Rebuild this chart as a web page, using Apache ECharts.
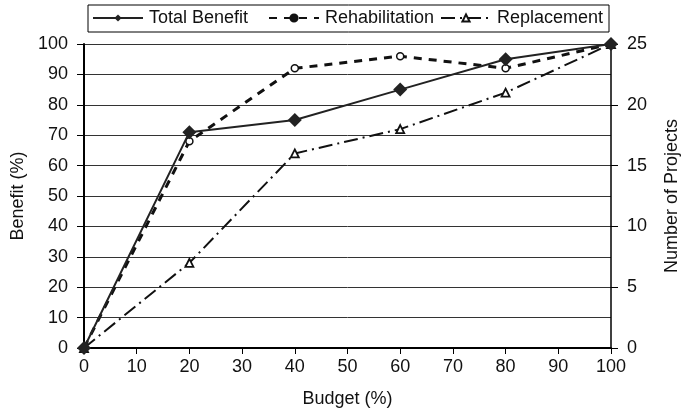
<!DOCTYPE html>
<html><head><meta charset="utf-8">
<script src="https://cdn.jsdelivr.net/npm/echarts@6/dist/echarts.min.js"></script>
<style>html,body{margin:0;padding:0;background:#fff}#c{width:681px;height:417px}</style>
</head><body><div id="c"></div>
<script>
const budget = [0, 20, 40, 60, 80, 100];
const totalBenefit = [0, 71, 75, 85, 95, 100];
const rehabilitation = [0, 17, 23, 24, 23, 25];
const replacement = [0, 7, 16, 18, 21, 25];
const seriesNames = ['Total Benefit', 'Rehabilitation', 'Replacement'];

const pair = (vals) => budget.map((b, i) => [b, vals[i]]);
const FONT = 'Liberation Sans, Arial, sans-serif';
const FS = 18;

const legendBase = {
  top: 9, padding: 0, itemGap: 0, itemWidth: 50, itemHeight: 9,
  textStyle: {fontFamily: FONT, fontSize: FS, color: '#111', padding: [0, 0, 0, 1]}
};

const chart = echarts.init(document.getElementById('c'), null, {renderer: 'canvas'});
chart.setOption({
  animation: false,
  backgroundColor: '#fff',
  textStyle: {fontFamily: FONT, color: '#111'},
  grid: {left: 84, right: 70, top: 44, bottom: 69, containLabel: false, outerBoundsMode: 'none'},
  graphic: [{
    type: 'rect', shape: {x: 88, y: 5, width: 521, height: 27},
    style: {fill: 'none', stroke: '#000', lineWidth: 1}, z: 10
  }],
  legend: [
    Object.assign({}, legendBase, {left: 92, data: [{name: seriesNames[0]}]}),
    Object.assign({}, legendBase, {left: 268, data: [{name: seriesNames[1], itemStyle: {color: '#111', borderColor: '#111'}}]}),
    Object.assign({}, legendBase, {left: 440, data: [{name: seriesNames[2]}]})
  ],
  xAxis: {
    type: 'value', min: 0, max: 100, interval: 10,
    name: 'Budget (%)', nameLocation: 'middle', nameGap: 42,
    nameTextStyle: {fontFamily: FONT, fontSize: FS, color: '#111'},
    axisLine: {show: true, lineStyle: {color: '#000', width: 2}},
    axisTick: {show: true, length: 6, lineStyle: {color: '#000', width: 1}},
    axisLabel: {margin: 10, fontFamily: FONT, fontSize: FS, color: '#111'},
    splitLine: {show: false}
  },
  yAxis: [{
    type: 'value', min: 0, max: 100, interval: 10,
    name: 'Benefit (%)', nameLocation: 'middle', nameGap: 56, nameRotate: 90,
    nameTextStyle: {fontFamily: FONT, fontSize: FS, color: '#111'},
    axisLine: {show: true, lineStyle: {color: '#000', width: 2}},
    axisTick: {show: true, length: 7, lineStyle: {color: '#000', width: 1}},
    axisLabel: {margin: 16, fontFamily: FONT, fontSize: FS, color: '#111'},
    splitLine: {show: true, lineStyle: {color: '#333', width: 1}}
  }, {
    type: 'value', min: 0, max: 25, interval: 5, position: 'right',
    name: 'Number of Projects', nameLocation: 'middle', nameGap: 52, nameRotate: 90,
    nameTextStyle: {fontFamily: FONT, fontSize: FS, color: '#111'},
    axisLine: {show: true, lineStyle: {color: '#000', width: 1.5}},
    axisTick: {show: true, length: 7, lineStyle: {color: '#000', width: 1}},
    axisLabel: {margin: 16, fontFamily: FONT, fontSize: FS, color: '#111'},
    splitLine: {show: false}
  }],
  series: [{
    name: seriesNames[1], type: 'line', yAxisIndex: 1, data: pair(rehabilitation),
    symbol: 'circle', symbolSize: 7, z: 3,
    lineStyle: {color: '#111', width: 3, type: [8, 7]},
    itemStyle: {color: '#fff', borderColor: '#111', borderWidth: 1.5}
  }, {
    name: seriesNames[2], type: 'line', yAxisIndex: 1, data: pair(replacement),
    symbol: 'triangle', symbolSize: 8, z: 3,
    lineStyle: {color: '#111', width: 2, type: [14, 5, 2, 5]},
    itemStyle: {color: '#fff', borderColor: '#111', borderWidth: 1.8}
  }, {
    name: seriesNames[0], type: 'line', yAxisIndex: 0, data: pair(totalBenefit),
    symbol: 'diamond', symbolSize: 14, z: 4,
    lineStyle: {color: '#222', width: 2, type: 'solid'},
    itemStyle: {color: '#222', borderColor: '#222', borderWidth: 0}
  }]
});
</script></body></html>
